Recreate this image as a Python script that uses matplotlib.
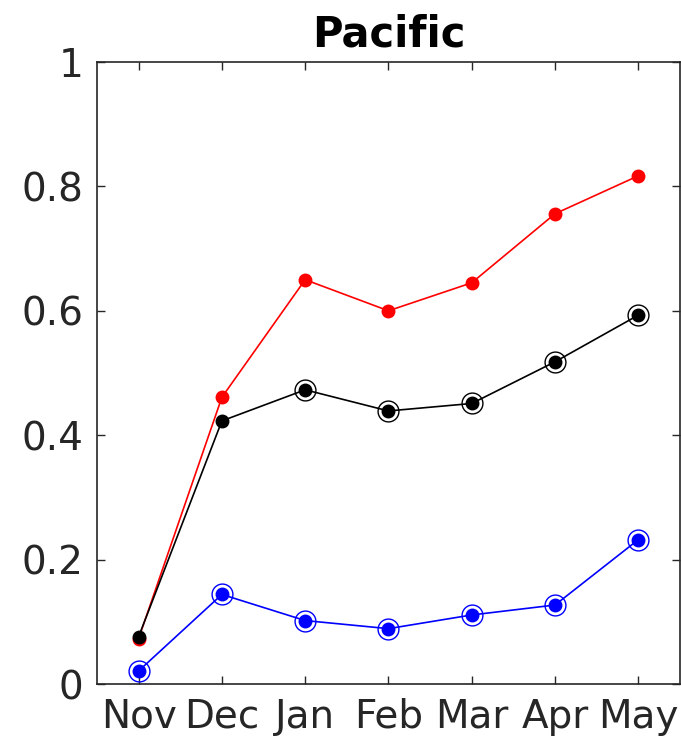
"""
Pacific: monthly skill curves (red, black, blue) with significance circles.
"""

import matplotlib

matplotlib.use("Agg")
import matplotlib.pyplot as plt  # noqa: E402
import numpy as np

months = ["Nov", "Dec", "Jan", "Feb", "Mar", "Apr", "May"]
red_vals = [0.073, 0.461, 0.650, 0.600, 0.645, 0.756, 0.817]
black_vals = [0.076, 0.423, 0.473, 0.439, 0.451, 0.518, 0.593]
blue_vals = [0.021, 0.144, 0.102, 0.089, 0.111, 0.127, 0.232]
# which points are circled (significant)
black_sig = [False, False, True, True, True, True, True]
blue_sig = [True, True, True, True, True, True, True]

x = np.arange(1, len(months) + 1)

plt.rcParams["font.family"] = ["DejaVu Sans"]

fig = plt.figure(figsize=(6.81, 7.46), dpi=100)
ax = fig.add_axes([0.1424, 0.0831, 0.856, 0.8338])

ax.plot(x, red_vals, "-o", color="red", lw=1.2, ms=9, mec="red", zorder=3)
ax.plot(x, black_vals, "-o", color="black", lw=1.2, ms=9, zorder=4)
ax.plot(x, blue_vals, "-o", color="blue", lw=1.2, ms=9, zorder=4)

bx = x[np.array(black_sig)]
by = np.array(black_vals)[np.array(black_sig)]
ax.plot(bx, by, "o", mfc="none", mec="black", ms=15, mew=1.0, zorder=5)
ux = x[np.array(blue_sig)]
uy = np.array(blue_vals)[np.array(blue_sig)]
ax.plot(ux, uy, "o", mfc="none", mec="blue", ms=15, mew=1.0, zorder=5)

ax.set_xlim(0.5, 7.5)
ax.set_ylim(0, 1)
ax.set_xticks(x)
ax.set_xticklabels(months)
ax.set_yticks([0, 0.2, 0.4, 0.6, 0.8, 1.0])
ax.set_yticklabels(["0", "0.2", "0.4", "0.6", "0.8", "1"])
ax.tick_params(direction="in", top=True, right=True, length=6, width=1,
               labelsize=28, colors="#262626", pad=10)
for s in ax.spines.values():
    s.set_color("#262626")
    s.set_linewidth(1.2)
ax.set_title("Pacific", fontsize=30, fontweight="bold", pad=11)

fig.savefig("out.png", dpi=100)
plt.close(fig)
